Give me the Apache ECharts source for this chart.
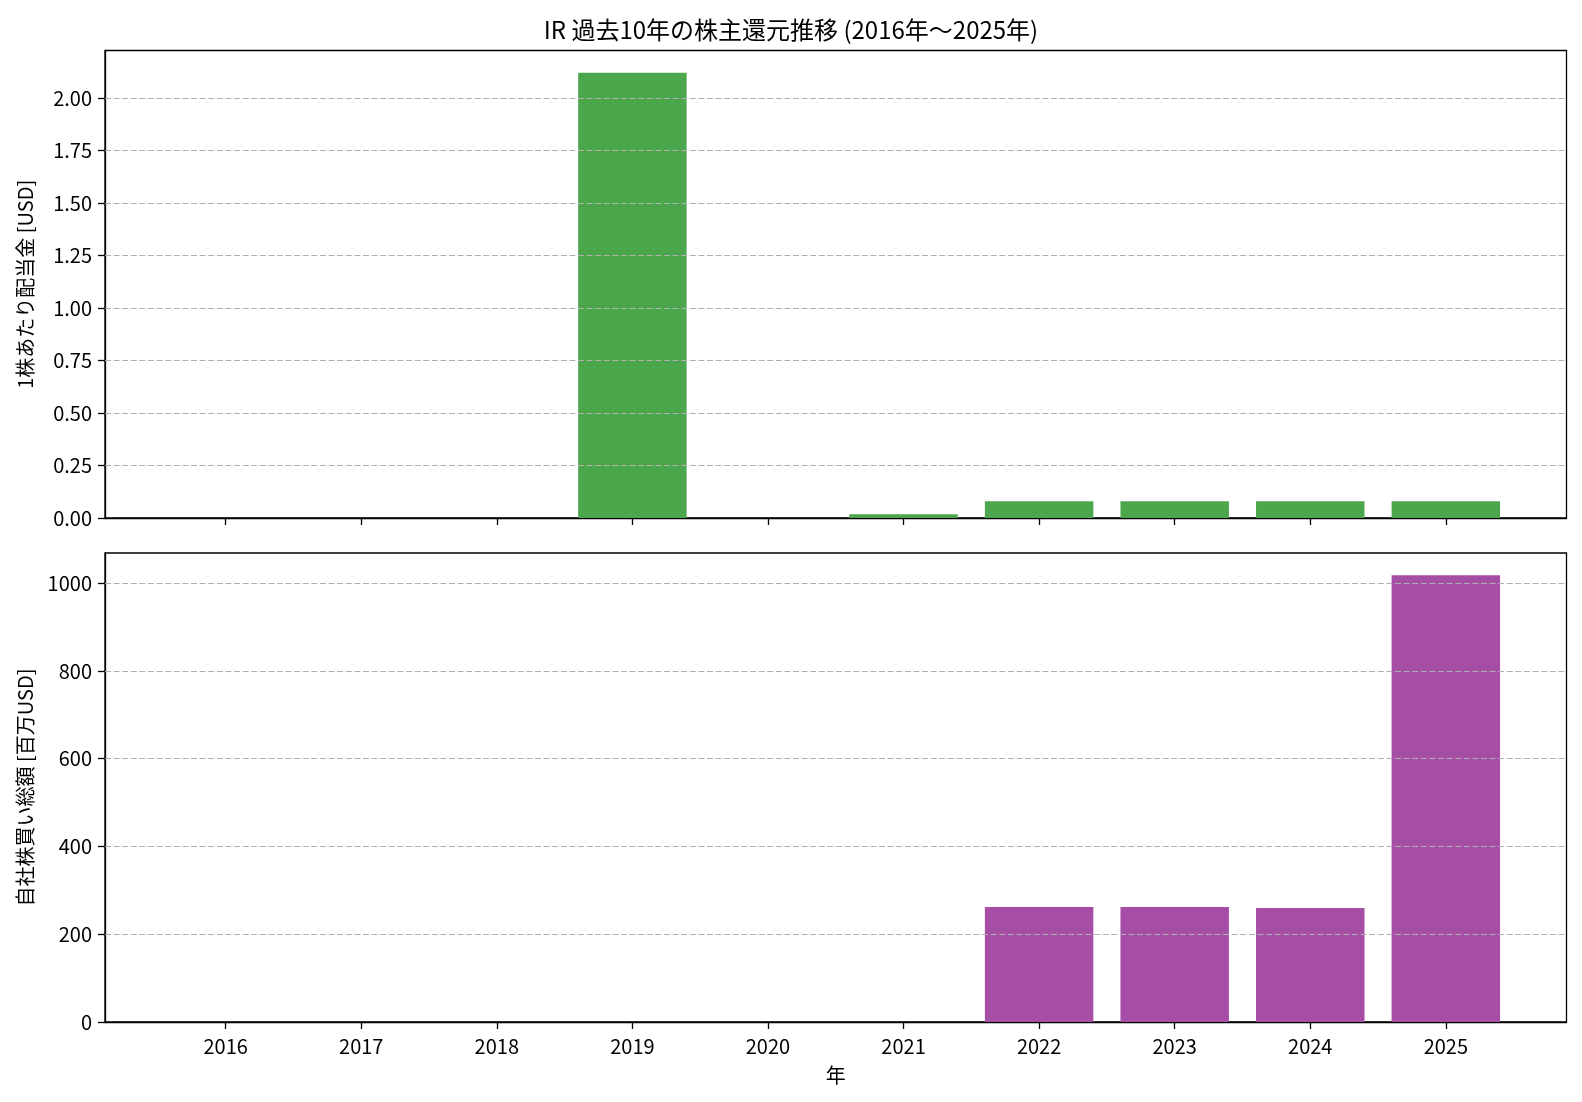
<!DOCTYPE html>
<html><head><meta charset="utf-8">
<script src="https://cdn.jsdelivr.net/npm/echarts@6/dist/echarts.min.js"></script>
<style>html,body{margin:0;padding:0;background:#fff}#c{width:1582px;height:1102px}</style>
</head><body><div id="c"></div>
<script>
const years = ['2016','2017','2018','2019','2020','2021','2022','2023','2024','2025'];
const dividendPerShare = [0, 0, 0, 2.12, 0, 0.0175, 0.08, 0.08, 0.08, 0.08];
const buybackTotal = [0, 0, 0, 0, 0, 0, 262, 262, 260, 1018];
const dividendTicks = [0, 0.25, 0.5, 0.75, 1.0, 1.25, 1.5, 1.75, 2.0];
const buybackTicks = [0, 200, 400, 600, 800, 1000];
const titleText = 'IR 過去10年の株主還元推移 (2016年～2025年)';
const dividendAxisName = '1株あたり配当金 [USD]';
const buybackAxisName = '自社株買い総額 [百万USD]';
const xAxisName = '年';

const FONT = '"Noto Sans CJK JP", "Noto Sans", sans-serif';
const idx = years.map((_, i) => i);
const xMin = -0.89, xMax = 9.89;
const plotW = 1582 - 105 - 15.5;
const barW = 0.8 / (xMax - xMin) * plotW;

const maxTop = Math.max(...dividendPerShare) * 1.05;
const maxBot = Math.max(...buybackTotal) * 1.05;

const gridCommon = { left: 105, right: 15.5, show: true, borderColor: '#000', borderWidth: 1.3, backgroundColor: 'transparent' };

function xAxisCfg(gridIndex, showLabels) {
  return {
    type: 'value', gridIndex, min: xMin, max: xMax,
    axisLine: { show: true, onZero: false, lineStyle: { color: '#000', width: 1.3 } },
    axisTick: { show: true, customValues: idx, length: 7, lineStyle: { color: '#000', width: 1.3 } },
    axisLabel: { show: showLabels, customValues: idx, margin: 14, fontFamily: FONT, fontSize: 20, color: '#000',
      formatter: v => years[Math.round(v)] },
    splitLine: { show: false },
    name: showLabels ? xAxisName : '', nameLocation: 'middle', nameGap: 43,
    nameTextStyle: { fontFamily: FONT, fontSize: 20, color: '#000' }
  };
}
function yAxisCfg(gridIndex, max, ticks, digits, name) {
  return {
    type: 'value', gridIndex, min: 0, max,
    axisLine: { show: true, onZero: false, lineStyle: { color: '#000', width: 1.3 } },
    axisTick: { show: true, customValues: ticks, length: 7, lineStyle: { color: '#000', width: 1.3 } },
    axisLabel: { margin: 13, customValues: ticks, fontFamily: FONT, fontSize: 20, color: '#000',
      formatter: v => v.toFixed(digits) },
    splitLine: { show: false },
    name, nameLocation: 'middle', nameGap: 70,
    nameTextStyle: { fontFamily: FONT, fontSize: 20, color: '#000' }
  };
}
function gridLines(ticks) {
  return {
    silent: true, symbol: 'none', animation: false,
    label: { show: false },
    lineStyle: { color: '#b0b0b0', width: 1.2, type: [6, 2.6] },
    emphasis: { disabled: true },
    data: ticks.filter(v => v !== 0).map(v => ({ yAxis: v }))
  };
}

const chart = echarts.init(document.getElementById('c'), null, { renderer: 'canvas' });
chart.setOption({
  animation: false,
  backgroundColor: '#fff',
  title: { text: titleText, left: 'center', top: 13,
    textStyle: { fontFamily: FONT, fontSize: 24, fontWeight: 'normal', color: '#000' } },
  grid: [
    Object.assign({ top: 50.5, height: 467.5 }, gridCommon),
    Object.assign({ top: 553, height: 469 }, gridCommon)
  ],
  xAxis: [xAxisCfg(0, false), xAxisCfg(1, true)],
  yAxis: [
    yAxisCfg(0, maxTop, dividendTicks, 2, dividendAxisName),
    yAxisCfg(1, maxBot, buybackTicks, 0, buybackAxisName)
  ],
  series: [
    { type: 'bar', xAxisIndex: 0, yAxisIndex: 0, barWidth: barW,
      itemStyle: { color: '#4ca64c' }, data: dividendPerShare.map((v, i) => [i, v]),
      markLine: gridLines(dividendTicks) },
    { type: 'bar', xAxisIndex: 1, yAxisIndex: 1, barWidth: barW,
      itemStyle: { color: '#a64da6' }, data: buybackTotal.map((v, i) => [i, v]),
      markLine: gridLines(buybackTicks) }
  ]
});
</script></body></html>
